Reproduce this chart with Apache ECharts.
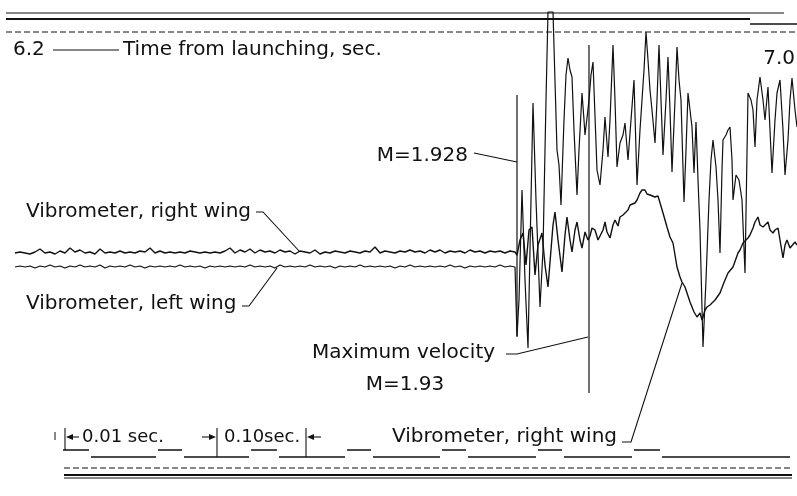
<!DOCTYPE html>
<html>
<head>
<meta charset="utf-8">
<script src="https://cdn.jsdelivr.net/npm/echarts@6/dist/echarts.min.js"></script>
<style>
  html, body { margin: 0; padding: 0; background: #fff; }
  #chart { width: 797px; height: 496px; }
</style>
</head>
<body>
<div id="chart"></div>
<script>
// Oscillograph record: wing vibrometers around maximum velocity (M = 1.93)

// Quiet stretch before the burst: sample spacing along the record
const quietStart = 15;
const quietStep = 5;

// Right-wing vibrometer deflection, quiet stretch
const rightWingQuiet = [
  0, 1, 0, -1, 1, 4, 0, 1, -1, 2,
  0, 5, 1, 3, 0, 1, -1, 4, 0, 1,
  0, 2, 0, 1, 0, 2, 1, 5, 0, 2,
  0, 1, 0, 1, 0, 2, 1, 0, 1, 0,
  1, 0, 2, 5, 0, 3, 1, 4, 0, 3,
  1, 2, 0, 3, 1, 2, -1, 2, 1, 0,
  3, -1, 1, 0, 2, 1, 0, 2, 1, 0,
  2, 1, 6, 0, 2, 1, 0, 2, 1, 3,
  1, 2, 0, 3, 1, 3, 0, 2, 1, 2,
  0, 3, 1, 2, 0, 2, 1, 2, 0, 2,
  1
];

// Left-wing vibrometer deflection, quiet stretch
const leftWingQuiet = [
  0, 1, 0, 1, -1, 1, 0, 2, 0, 1,
  -1, 1, 0, 2, 0, 1, 0, 2, -1, 1,
  0, 1, 0, 2, 0, 1, -1, 1, 0, 1,
  0, 1, 0, 2, 0, 1, 0, 1, -1, 1,
  0, 1, 0, 1, 0, 1, 0, 2, 0, 1,
  0, 1, -1, 2, 0, 1, 0, 1, 0, 2,
  0, 1, 0, 1, -1, 1, 0, 1, 0, 2,
  0, 1, 0, 1, 0, 1, -1, 1, 0, 2,
  0, 1, 0, 1, 0, 1, 0, 2, 0, 1,
  -1, 1, 0, 1, 0, 1, 0, 2, 0, 1,
  0
];

// Right-wing vibrometer after M = 1.928: [record position, deflection]
const rightWingBurst = [
  [517, -2], [520, 13], [523, 20], [526, -12], [529, 23], [532, 26], [535, -22],
  [538, 8], [542, 20], [545, -12], [548, -34], [550, -34], [553, 28], [555, 41],
  [558, 13], [562, -19], [565, 18], [567, 36], [570, 13], [572, 1], [575, 23],
  [577, 31], [580, 13], [582, 5], [585, 21], [588, 13], [590, 17], [592, 25],
  [595, 23], [598, 13], [600, 11], [603, 23], [605, 31], [607, 21], [610, 15],
  [613, 28], [615, 33], [618, 27], [620, 36], [623, 38], [625, 40], [628, 43],
  [630, 48], [632, 46], [635, 50], [637, 53], [640, 60], [642, 63], [643, 61],
  [645, 63], [647, 59], [650, 58], [652, 60], [655, 56], [658, 57], [660, 55],
  [663, 40], [665, 33], [667, 26], [670, 16], [673, 10], [675, -2], [677, -14],
  [680, -24], [682, -29], [685, -34], [687, -40], [690, -49], [692, -54],
  [694, -59], [697, -64], [700, -60], [702, -67], [703, -64], [705, -57],
  [707, -54], [710, -52], [712, -50], [715, -47], [717, -47], [720, -40],
  [723, -32], [725, -27], [728, -20], [730, -20], [733, -14], [735, -12],
  [738, 0], [740, 3], [743, 10], [745, 11], [748, 15], [750, 18], [753, 25],
  [755, 31], [758, 36], [760, 28], [763, 26], [765, 25], [768, 31], [770, 23],
  [773, 20], [775, 23], [778, 25], [780, 13], [783, -5], [785, 8], [787, 13],
  [790, 5], [792, 3], [795, 11], [797, 8]
];

// Left-wing vibrometer after M = 1.928: [record position, deflection]
const leftWingBurst = [
  [517, -69], [519, -33], [522, 77], [525, -13], [528, -81], [531, 67],
  [533, 164], [536, 67], [540, -40], [543, 17], [546, 167], [548, 255],
  [553, 255], [557, 117], [559, 102], [561, 62], [564, 147], [566, 192],
  [568, 209], [570, 197], [572, 190], [574, 137], [577, 72], [579, 117],
  [582, 174], [584, 147], [585, 132], [587, 149], [589, 167], [591, 192],
  [593, 205], [595, 207], [597, 97], [600, 82], [603, 117], [605, 150],
  [608, 110], [610, 147], [613, 222], [615, 167], [617, 100], [620, 124],
  [623, 132], [625, 144], [628, 107], [631, 147], [634, 187], [637, 82],
  [640, 137], [642, 167], [644, 197], [646, 235], [648, 207], [650, 177],
  [652, 157], [655, 124], [657, 167], [659, 222], [661, 167], [663, 112],
  [666, 167], [668, 210], [670, 157], [672, 95], [675, 167], [677, 220],
  [679, 187], [681, 167], [684, 65], [686, 117], [688, 174], [690, 157],
  [692, 140], [694, 94], [696, 145], [698, 87], [700, 37], [703, -80],
  [706, -13], [709, 67], [711, 107], [713, 127], [716, 100], [718, 67],
  [720, 14], [722, 97], [723, 127], [726, 132], [728, 137], [730, 140],
  [732, 107], [733, 67], [736, 92], [739, 87], [742, 67], [745, -6],
  [748, 174], [751, 167], [753, 157], [755, 120], [757, 167], [760, 190],
  [763, 167], [765, 147], [768, 180], [770, 137], [772, 94], [775, 147],
  [777, 174], [780, 187], [783, 137], [785, 92], [788, 127], [790, 167],
  [792, 189], [795, 157], [797, 140]
];

// Timing trace: switching positions, alternately high and low
const timingEdges = [63, 91, 158, 184, 251, 279, 347, 373, 442, 468, 538, 564, 634, 662, 792];
const timingHigh = 7;
const timingLow = 0;

// ---- layout (pixels / axis units) ----
const W = 797, H = 496;
const rightZero = -5;    // channel rest levels on the value axis
const leftZero = -19;
const timingZero = -209;
const ink = '#111';
const FONT = '"DejaVu Sans", sans-serif';
const FS = 20;

const rightData = rightWingQuiet.map((d, i) => [quietStart + quietStep * i, rightZero + d])
  .concat(rightWingBurst.map(([x, d]) => [x, rightZero + d]));
const leftData = leftWingQuiet.map((d, i) => [quietStart + quietStep * i, leftZero + d])
  .concat(leftWingBurst.map(([x, d]) => [x, leftZero + d]));

const timingSegs = [];
for (let i = 0; i < timingEdges.length - 1; i++) {
  const lv = timingZero + (i % 2 === 0 ? timingHigh : timingLow);
  timingSegs.push({ coords: [[timingEdges[i], lv], [timingEdges[i + 1] - 2, lv]] });
}

function line(points, width, dash) {
  return {
    type: 'polyline', silent: true,
    shape: { points },
    style: { stroke: ink, lineWidth: width || 1.2, fill: null, lineDash: dash || null }
  };
}
function text(str, x, y, align, size) {
  return {
    type: 'text', silent: true,
    style: {
      text: str, x, y, font: (size || FS) + 'px ' + FONT, fill: ink,
      align: align || 'left', verticalAlign: 'middle',
      textAlign: align || 'left', textVerticalAlign: 'middle'
    }
  };
}
function arrowHead(tipX, tipY, dir) {
  // small filled head pointing left (dir=-1) or right (dir=1)
  return {
    type: 'polygon', silent: true,
    shape: { points: [[tipX, tipY], [tipX - dir * 7, tipY - 3], [tipX - dir * 7, tipY + 3]] },
    style: { fill: ink }
  };
}

const graphics = [
  // film edge, top
  line([[6, 13], [784, 13]], 1.2),
  line([[6, 19], [750, 19]], 2.2),
  line([[750, 24], [797, 24]], 1.6),
  line([[6, 32], [797, 32]], 1, [6, 3]),
  // film edge, bottom
  line([[64, 468], [792, 468]], 1, [6, 3]),
  line([[64, 475], [792, 475]], 2),
  line([[64, 478], [792, 478]], 1),
  // event markers
  line([[517, 95], [517, 337]], 1.2),
  line([[589, 45], [589, 393]], 1.2),
  // time caption
  text('6.2', 13, 50),
  line([[53, 50], [119, 50]], 1.1),
  text('Time from launching, sec.', 123, 50),
  text('7.0', 795, 59, 'right'),
  // M = 1.928 marker
  text('M=1.928', 468, 156, 'right'),
  line([[474, 153], [517, 162]], 1.1),
  // upper trace labels
  text('Vibrometer, right wing', 26, 212),
  line([[256, 212], [263, 212], [300, 252]], 1.1),
  text('Vibrometer, left wing', 26, 304),
  line([[242, 306], [249, 306], [277, 268]], 1.1),
  // maximum velocity
  text('Maximum velocity', 312, 353),
  line([[506, 354], [517, 354], [588, 337]], 1.1),
  text('M=1.93', 405, 385, 'center'),
  // lower right-wing label
  text('Vibrometer, right wing', 392, 437),
  line([[622, 442], [631, 442], [682, 283]], 1.1),
  // timing scale
  line([[55, 432], [55, 440]], 1),
  line([[65, 428], [65, 450]], 1.1),
  line([[79, 437], [68, 437]], 1.1),
  arrowHead(66, 437, -1),
  text('0.01 sec.', 82, 437, 'left', 18),
  line([[202, 437], [212, 437]], 1.1),
  arrowHead(216, 437, 1),
  line([[217, 428], [217, 457]], 1.1),
  text('0.10sec.', 224, 437, 'left', 18),
  line([[306, 428], [306, 457]], 1.1),
  line([[321, 437], [310, 437]], 1.1),
  arrowHead(307, 437, -1)
];

const chart = echarts.init(document.getElementById('chart'), null, { renderer: 'canvas' });
chart.setOption({
  animation: false,
  backgroundColor: '#fff',
  grid: { left: 0, right: 0, top: 0, bottom: 0 },
  xAxis: { type: 'value', min: 0, max: W, show: false },
  yAxis: { type: 'value', min: -H / 2, max: H / 2, show: false },
  series: [
    {
      name: 'Vibrometer, right wing', type: 'line', data: rightData,
      showSymbol: false, symbol: 'none', clip: false,
      lineStyle: { color: ink, width: 1.4 }
    },
    {
      name: 'Vibrometer, left wing', type: 'line', data: leftData,
      showSymbol: false, symbol: 'none', clip: false,
      lineStyle: { color: ink, width: 1.2 }
    },
    {
      name: 'Timing', type: 'lines', coordinateSystem: 'cartesian2d',
      data: timingSegs, lineStyle: { color: ink, width: 1.5, opacity: 1 }
    }
  ],
  graphic: graphics
});
</script>
</body>
</html>
